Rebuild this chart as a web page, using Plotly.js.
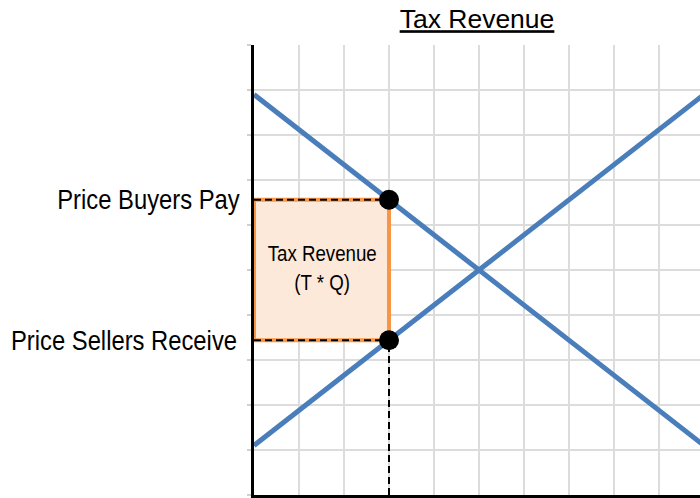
<!DOCTYPE html>
<html>
<head>
<meta charset="utf-8">
<script src="https://cdn.plot.ly/plotly-3.0.1.min.js"></script>
<style>html,body{margin:0;padding:0;background:#fff;}#chart{width:700px;height:498px;}</style>
</head>
<body>
<div id="chart"></div>
<script>
// Data
const quantity = [0, 10];
const demandPrice = [8.9, 1.1];
const supplyPrice = [1.1, 8.9];
const taxQuantity = 3;
const priceBuyersPay = 6.56;
const priceSellersReceive = 3.44;
const priceLabels = ["Price Buyers Pay", "Price Sellers Receive"];
const boxLabel = "Tax Revenue<br>(T * Q)";
const chartTitle = "Tax Revenue";

const FONT = "Liberation Sans, Arial, sans-serif";
const blue = "#4A7EBB";

const traces = [
  { // tax revenue rectangle
    x: [0, taxQuantity, taxQuantity, 0, 0],
    y: [priceSellersReceive, priceSellersReceive, priceBuyersPay, priceBuyersPay, priceSellersReceive],
    mode: "lines", fill: "toself", fillcolor: "#FDE9D9",
    line: { color: "#F79646", width: 4 }, hoverinfo: "skip"
  },
  { x: [0, taxQuantity], y: [priceBuyersPay, priceBuyersPay], mode: "lines",
    line: { color: "#000", width: 2, dash: "7px,4px" }, hoverinfo: "skip" },
  { x: [0, taxQuantity], y: [priceSellersReceive, priceSellersReceive], mode: "lines",
    line: { color: "#000", width: 2, dash: "7px,4px" }, hoverinfo: "skip" },
  { x: [taxQuantity, taxQuantity], y: [0, priceSellersReceive], mode: "lines",
    line: { color: "#000", width: 2, dash: "7px,4px" }, hoverinfo: "skip" },
  { x: quantity, y: demandPrice, mode: "lines", line: { color: blue, width: 5 } },
  { x: quantity, y: supplyPrice, mode: "lines", line: { color: blue, width: 5 } },
  { x: [taxQuantity, taxQuantity], y: [priceBuyersPay, priceSellersReceive], mode: "markers",
    marker: { color: "#000", size: 20 }, cliponaxis: false }
];

const layout = {
  width: 700, height: 498,
  margin: { l: 254, r: 0, t: 45, b: 3, pad: 0 },
  paper_bgcolor: "#fff", plot_bgcolor: "#fff",
  showlegend: false,
  font: { family: FONT, color: "#000" },
  title: { text: "<u>" + chartTitle + "</u>", x: 0.5, xref: "paper", xanchor: "center",
           y: 0.962, yref: "container", yanchor: "middle",
           font: { family: FONT, size: 26.5, color: "#000" } },
  xaxis: { range: [0, 446 / 45], tickvals: [0,1,2,3,4,5,6,7,8,9,10], showticklabels: false,
           showgrid: true, gridcolor: "#DCDCDC", gridwidth: 1.5, zeroline: false,
           showline: true, linecolor: "#000", linewidth: 3, ticks: "", fixedrange: true },
  yaxis: { range: [0, 10], tickvals: [0,1,2,3,4,5,6,7,8,9,10], showticklabels: false,
           showgrid: true, gridcolor: "#DCDCDC", gridwidth: 1.5, zeroline: false,
           showline: true, linecolor: "#000", linewidth: 3,
           ticks: "outside", ticklen: 4, tickcolor: "#D0D0D0", tickwidth: 1.5, fixedrange: true },
  annotations: [
    { x: 0, y: priceBuyersPay, xref: "x", yref: "y", text: priceLabels[0], showarrow: false,
      xanchor: "right", yanchor: "middle", xshift: -12, font: { family: FONT, size: 28, color: "#000" } },
    { x: 0, y: priceSellersReceive, xref: "x", yref: "y", text: priceLabels[1], showarrow: false,
      xanchor: "right", yanchor: "middle", xshift: -15, font: { family: FONT, size: 28, color: "#000" } },
    { x: taxQuantity / 2, y: (priceBuyersPay + priceSellersReceive) / 2, xref: "x", yref: "y",
      text: boxLabel, showarrow: false, xanchor: "center", yanchor: "middle", yshift: 2,
      font: { family: FONT, size: 22, color: "#000" } }
  ]
};

Plotly.newPlot("chart", traces, layout, { displayModeBar: false, staticPlot: true }).then(function (gd) {
  // condensed (narrow) lettering as in the reference
  const anns = gd.querySelectorAll(".annotation-text");
  anns.forEach(function (t, i) {
    t.style.transformBox = "fill-box";
    t.style.transformOrigin = i < 2 ? "right center" : "center center";
    t.style.transform = "scaleX(0.85)";
  });
});
</script>
</body>
</html>
